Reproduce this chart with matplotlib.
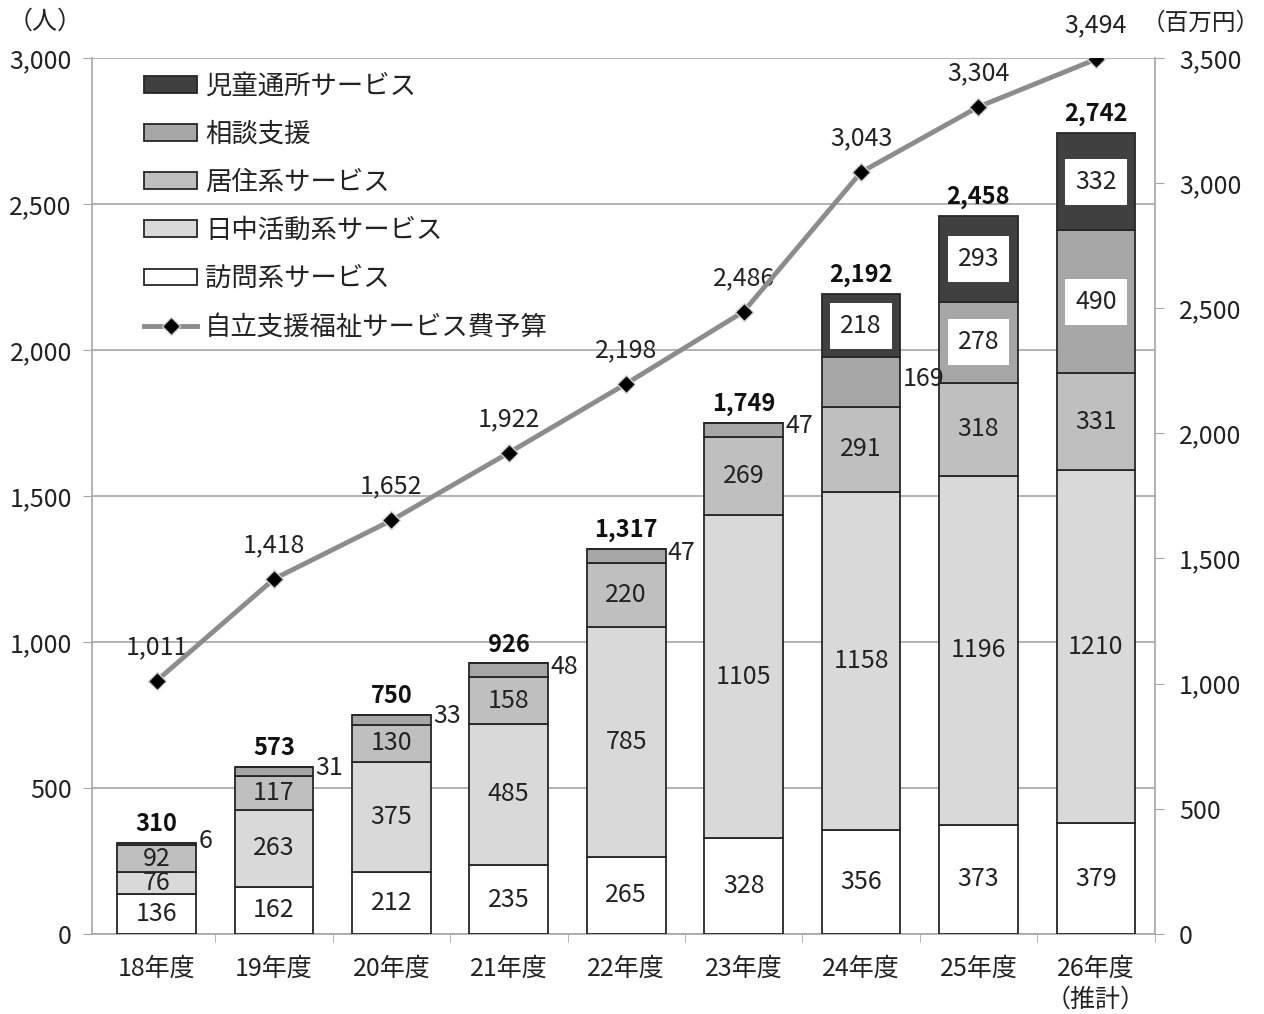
import matplotlib.pyplot as plt
import numpy as np

plt.rcParams['font.family'] = ['Noto Sans CJK JP', 'DejaVu Sans']

years = ["18年度", "19年度", "20年度", "21年度", "22年度", "23年度", "24年度", "25年度", "26年度\n（推計）"]
houmon = [136, 162, 212, 235, 265, 328, 356, 373, 379]
nicchu = [76, 263, 375, 485, 785, 1105, 1158, 1196, 1210]
kyoju = [92, 117, 130, 158, 220, 269, 291, 318, 331]
soudan = [6, 31, 33, 48, 47, 47, 169, 278, 490]
jido = [0, 0, 0, 0, 0, 0, 218, 293, 332]
totals = [310, 573, 750, 926, 1317, 1749, 2192, 2458, 2742]
budget = [1011, 1418, 1652, 1922, 2198, 2486, 3043, 3304, 3494]

series = [
    ("訪問系サービス", houmon, "#ffffff"),
    ("日中活動系サービス", nicchu, "#d9d9d9"),
    ("居住系サービス", kyoju, "#bfbfbf"),
    ("相談支援", soudan, "#a6a6a6"),
    ("児童通所サービス", jido, "#404040"),
]

fig = plt.figure(figsize=(12.64, 10.14), dpi=100)
ax = fig.add_axes([0.0728, 0.079, 0.8406, 0.864])
x = np.arange(len(years))
w = 0.67
fs = 18
txt = "#222222"

bottom = np.zeros(len(years))
bars = {}
for name, vals, col in series:
    vals = np.array(vals)
    b = ax.bar(x, vals, w, bottom=bottom, color=col, edgecolor="#262626", linewidth=1.3, label=name, zorder=3)
    bars[name] = b
    for i, v in enumerate(vals):
        if v == 0:
            continue
        yc = bottom[i] + v / 2
        if name == "相談支援" and v < 200:
            ax.text(x[i] + w / 2 + 0.02, yc + 12, str(v), ha="left", va="center", fontsize=fs, color=txt, zorder=5)
        elif name in ("相談支援", "児童通所サービス"):
            ax.text(x[i], yc, str(v), ha="center", va="center", fontsize=fs, color=txt, zorder=5,
                    bbox=dict(facecolor="white", edgecolor="none", boxstyle="square,pad=0.4"))
        else:
            ax.text(x[i], yc, str(v), ha="center", va="center", fontsize=fs, color=txt, zorder=5)
    bottom = bottom + vals

for i, t in enumerate(totals):
    ax.annotate(f"{t:,}", (x[i], t), xytext=(0, 5), textcoords="offset points",
                ha="center", va="bottom", fontsize=fs - 1, fontweight="bold", color="#111111")

ax.set_xlim(-0.55, len(years) - 0.5)
ax.set_ylim(0, 3000)
ax.set_yticks(np.arange(0, 3001, 500))
ax.set_yticklabels([f"{v:,}" for v in range(0, 3001, 500)])
ax.set_xticks(x)
ax.set_xticklabels(years)
ax.set_xticks(np.arange(0.5, len(years), 1), minor=True)
ax.tick_params(axis="x", which="major", length=0, pad=16, labelsize=fs, colors=txt)
ax.tick_params(axis="x", which="minor", length=6, color="#a6a6a6", direction="out")
ax.tick_params(axis="y", length=6.5, color="#a6a6a6", labelsize=fs, colors=txt, pad=8)
ax.grid(axis="y", color="#a6a6a6", linewidth=1.2, zorder=0)
ax.set_axisbelow(True)
for s in ["top", "right"]:
    ax.spines[s].set_visible(False)
for s in ["left", "bottom"]:
    ax.spines[s].set_color("#a6a6a6")
    ax.spines[s].set_linewidth(1.2)

ax2 = ax.twinx()
ax2.set_ylim(0, 3500)
ax2.set_yticks(np.arange(0, 3501, 500))
ax2.set_yticklabels([f"{v:,}" for v in range(0, 3501, 500)])
ax2.tick_params(axis="y", length=6.5, color="#a6a6a6", labelsize=fs, colors=txt, pad=11)
for s in ["top", "left", "bottom"]:
    ax2.spines[s].set_visible(False)
ax2.spines["right"].set_color("#a6a6a6")
ax2.spines["right"].set_linewidth(1.2)
line, = ax2.plot(x, budget, color="#8c8c8c", linewidth=3.5, marker="D", markersize=9,
                 markerfacecolor="black", markeredgecolor="#d0d0d0", markeredgewidth=1,
                 label="自立支援福祉サービス費予算", zorder=6)
for i, v in enumerate(budget):
    ax2.annotate(f"{v:,}", (x[i], v), xytext=(0, 15), textcoords="offset points",
                 ha="center", va="bottom", fontsize=fs, color=txt)

handles = [bars[n] for n in ["児童通所サービス", "相談支援", "居住系サービス", "日中活動系サービス", "訪問系サービス"]] + [line]
labels = ["児童通所サービス", "相談支援", "居住系サービス", "日中活動系サービス", "訪問系サービス", "自立支援福祉サービス費予算"]
ax2.legend(handles, labels, loc="upper left", bbox_to_anchor=(0.027, 1.01), frameon=False,
           fontsize=fs + 1, labelspacing=0.8, handlelength=2.0, handleheight=0.6, handletextpad=0.3,
           labelcolor=txt)

fig.text(0.036, 0.979, "（人）", ha="center", va="center", fontsize=fs, color=txt)
fig.text(0.997, 0.977, "（百万円）", ha="right", va="center", fontsize=fs - 1, color=txt)

fig.savefig("out.png", dpi=100)
